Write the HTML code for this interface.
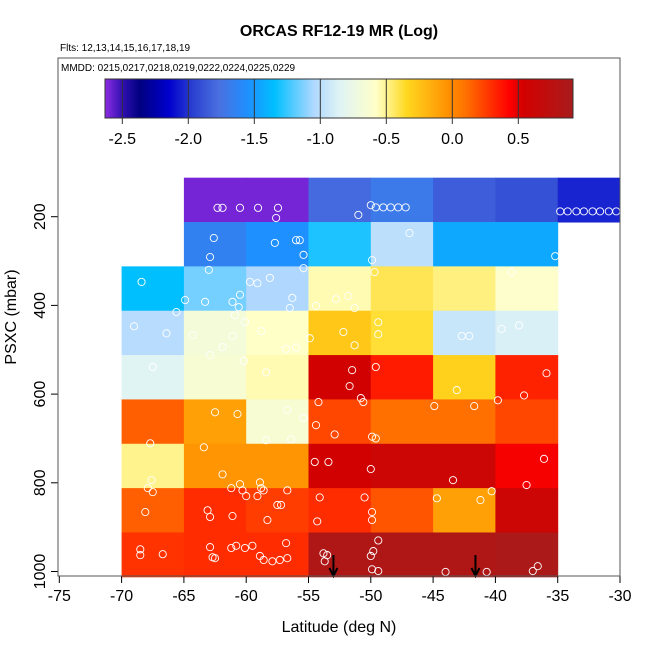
<!DOCTYPE html>
<html><head><meta charset="utf-8"><style>
body{margin:0;background:#fff;}
svg{display:block;font-family:"Liberation Sans",Arial,sans-serif;}
</style></head><body>
<svg id="chart" width="650" height="650" viewBox="0 0 650 650">
<text x="339" y="36" text-anchor="middle" font-size="16" font-weight="bold">ORCAS RF12-19 MR (Log)</text>
<text x="60" y="51" font-size="10">Flts: 12,13,14,15,16,17,18,19</text>
<g id="cells"></g><g id="pts"></g><g id="cbar"></g><g id="axes"></g>
<rect x="58" y="58" width="562" height="518" fill="none" stroke="#555"/>
<text x="61" y="71" font-size="10">MMDD: 0215,0217,0218,0219,0222,0224,0225,0229</text>
<text x="339" y="632" text-anchor="middle" font-size="16">Latitude (deg N)</text>
<text transform="translate(16,317) rotate(-90)" text-anchor="middle" font-size="16">PSXC (mbar)</text>
</svg>
<script>
const latEdges=[-70,-65,-60,-55,-50,-45,-40,-35,-30];
const presEdges=[112,212,312,412,512,612,712,812,912,1012];
const cellValues=[
 [null,-2.6,-2.6,-1.8,-1.7,-1.85,-1.9,-2.05],
 [null,-1.65,-1.55,-1.3,-1.0,-1.45,-1.45,null],
 [-1.35,-1.15,-1.05,-0.55,-0.42,-0.48,-0.6,null],
 [-1.02,-0.68,-0.58,-0.28,-0.38,-0.95,-0.88,null],
 [-0.85,-0.65,-0.55,0.55,0.35,-0.32,0.33,null],
 [0.15,-0.1,-0.65,0.22,0.1,0.1,0.22,null],
 [-0.5,-0.05,-0.05,0.55,0.6,0.6,0.45,null],
 [0.15,0.3,0.25,0.3,0.18,-0.1,0.6,null],
 [0.28,0.3,0.3,0.85,0.85,0.85,0.88,null]];
const ptLat=[-62.3,-61.9,-60.5,-59.05,-57.45,-57.6,-34.8,-34.2,-33.5,-32.9,-32.2,-31.6,-30.9,-30.3,-49.6,-49.0,-48.4,-47.8,-47.2,-51.0,-50.0,
-62.6,-62.9,-57.7,-56,-55.7,-55.4,-55.4,-46.9,-49.9,-49.7,-38.7,-35.2,-63.0,
-68.4,-64.9,-65.6,-63.3,-61.1,-60.5,-59.7,-59.1,-58.1,-56.3,-56.5,-54.4,-52.8,-51.8,-51.3,-60.1,-60.9,-58.8,-61.1,-60.6,-66.4,-69,-64.3,-54.9,-52.2,-49.4,-49.4,-51.3,-56.8,-56,-42.7,-42.1,-39.5,-38.1,-61.9,
-62.9,-60.2,-67.5,-58.4,-51.5,-51.7,-54.2,-49.6,-35.9,-37.7,-43.1,-60.7,-56.7,-50.8,-50.6,-44.9,-41.7,-39.8,-62.5,-55.4,-54.4,
-67.7,-63.4,-58.4,-56.4,-52.9,-49.9,-49.6,-54.5,-53.4,-50,-67.6,-61.9,-61.2,-60.5,-58.9,-58.6,-56.7,-36.1,-37.5,-43.4,-44.7,-40.3,-41.2,
-67.9,-67.5,-68.1,-63.1,-62.9,-61.1,-60.3,-60,-59.1,-58.8,-57.5,-57.2,-58.3,-54.1,-54.3,-50.5,-49.9,-49.9,
-68.5,-68.5,-66.7,-62.9,-62.7,-62.5,-61.2,-60.8,-60.1,-59.5,-58.9,-58.6,-57.9,-57.3,-56.8,-56.7,-53.8,-53.5,-53.7,-50,-49.8,-49.9,-49.4,-44.0,-40.7,-37,-36.6,-49.4];
const ptPres=[180,180,180,180,180,203,188,188,188,188,188,188,188,188,179,179,179,179,179,196,174,
248,291,259,253,253,286,316,237,298,325,325,289,320,
347,388,415,392,392,376,347,350,338,383,406,401,386,379,406,437,422,458,469,404,463,447,467,474,460,438,465,490,498,495,469,469,453,445,494,
512,525,539,551,546,582,618,539,553,603,591,645,636,609,618,627,627,614,641,654,670,
711,720,704,702,691,696,700,753,753,769,794,781,812,803,799,817,817,746,805,794,835,819,839,
812,821,866,862,877,875,817,830,830,812,850,850,884,833,887,833,866,884,
950,963,961,945,968,970,947,942,947,942,965,974,977,974,936,970,959,963,977,965,954,995,999,1001,1001,999,988,930];
const arrowLat=[-53,-41.6];
const xTicks=[-75,-70,-65,-60,-55,-50,-45,-40,-35,-30];
const yTicks=[200,400,600,800,1000];
const cbTicks=[-2.5,-2.0,-1.5,-1.0,-0.5,0.0,0.5];
const cbMin=-2.63,cbMax=0.915;
const stops=[[-2.63,'#8a2be2'],[-2.5,'#3010b0'],[-2.37,'#000080'],[-2.15,'#0000cd'],[-1.97,'#2a40d0'],[-1.77,'#4a70e0'],[-1.55,'#1e90ff'],[-1.35,'#00bfff'],[-1.05,'#b0d8ff'],[-0.85,'#e0f4f4'],[-0.58,'#ffffc8'],[-0.48,'#fff080'],[-0.35,'#ffd820'],[-0.03,'#ff9000'],[0.1,'#ff7000'],[0.43,'#ff0000'],[0.53,'#d40000'],[0.915,'#a81c1c']];
const X=v=>59.3+(v+75)*12.46;
const Y=p=>216.7+(p-200)*0.4435;
const CB=v=>122.3+(v+2.5)*132;
function hx(c){return [1,3,5].map(i=>parseInt(c.substr(i,2),16));}
function col(v){
 if(v<=stops[0][0])return stops[0][1];
 for(let i=1;i<stops.length;i++){if(v<=stops[i][0]){const a=hx(stops[i-1][1]),b=hx(stops[i][1]);const t=(v-stops[i-1][0])/(stops[i][0]-stops[i-1][0]);return 'rgb('+a.map((x,k)=>Math.round(x+(b[k]-x)*t)).join(',')+')';}}
 return stops[stops.length-1][1];}
const NS='http://www.w3.org/2000/svg';
function mk(t,a,p){const e=document.createElementNS(NS,t);for(const k in a)e.setAttribute(k,a[k]);p.appendChild(e);return e;}
const gc=document.getElementById('cells');
cellValues.forEach((row,r)=>row.forEach((v,c)=>{if(v===null)return;
 const e=mk('rect',{x:X(latEdges[c]),y:Y(presEdges[r]),width:X(latEdges[c+1])-X(latEdges[c])+0.5,height:Y(presEdges[r+1])-Y(presEdges[r])+0.5,fill:col(v)},gc);
 
 }));
const gp=document.getElementById('pts');
ptLat.forEach((la,i)=>{const e=mk('circle',{cx:X(la),cy:Y(ptPres[i]),r:3.6,fill:'none',stroke:'#fff','stroke-width':0.9},gp);
 
 });
arrowLat.forEach(la=>{const x=X(la);const g=mk('g',{},gp);
 
 
 mk('line',{x1:x,y1:555,x2:x,y2:575,stroke:'#000','stroke-width':2},g);
 mk('path',{d:`M${x-4},${568} L${x},${576} L${x+4},${568}`,fill:'none',stroke:'#000','stroke-width':2},g);});
const gb=document.getElementById('cbar');
for(let px=105;px<573;px++){const v=cbMin+(px-105)/(573-105)*(cbMax-cbMin);mk('rect',{x:px,y:79,width:1.2,height:39,fill:col(v)},gb);}
const fr=mk('rect',{x:105,y:79,width:468,height:39,fill:'none',stroke:'#333'},gb);


cbTicks.forEach(t=>{const x=CB(t);mk('line',{x1:x,y1:79,x2:x,y2:124,stroke:'#333'},gb);
 const e=mk('text',{x:x,y:144,'text-anchor':'middle','font-size':16},gb);e.textContent=t.toFixed(1);
 
 });
const ga=document.getElementById('axes');
mk('line',{x1:X(-75),y1:576,x2:X(-30),y2:576,stroke:'#000'},ga);
xTicks.forEach(t=>{const x=X(t);mk('line',{x1:x,y1:576,x2:x,y2:583,stroke:'#000'},ga);
 const e=mk('text',{x:x,y:601,'text-anchor':'middle','font-size':16},ga);e.textContent=t;
 
 });
mk('line',{x1:58,y1:Y(200),x2:58,y2:Y(1000),stroke:'#000'},ga);
yTicks.forEach(t=>{const y=Y(t);mk('line',{x1:51,y1:y,x2:58,y2:y,stroke:'#000'},ga);
 const e=mk('text',{transform:`translate(45,${y}) rotate(-90)`,'text-anchor':'middle','font-size':16},ga);e.textContent=t;
 
 });
</script>
</body></html>
